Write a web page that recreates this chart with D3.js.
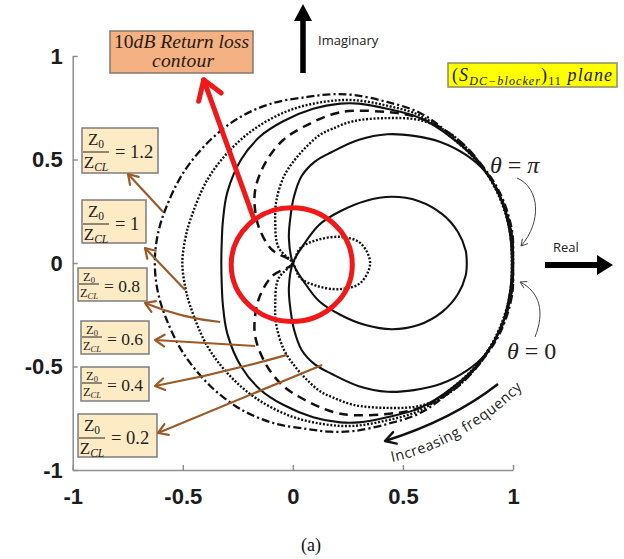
<!DOCTYPE html>
<html>
<head>
<meta charset="utf-8">
<script src="https://cdn.jsdelivr.net/npm/d3@7"></script>
<style>
  body { margin: 0; background: #fff; }
</style>
</head>
<body>
<svg id="chart" width="624" height="559"></svg>
<script>
// Z0/ZCL ratios of the coupled-line DC blocker
const ratios = ["1.2", "1", "0.8", "0.6", "0.4", "0.2"];

// S11 traces, [Re, Im], starting at θ = 0 (1, 0) and running with frequency
const s11_r12 = [
  [1.0, 0], [0.995, -0.159], [0.941, -0.338], [0.85, -0.483], [0.728, -0.609], [0.578, -0.725],
  [0.428, -0.778], [0.274, -0.812], [0.17, -0.815], [0.065, -0.802], [-0.089, -0.773], [-0.239, -0.705],
  [-0.375, -0.594], [-0.498, -0.435], [-0.58, -0.256], [-0.615, -0.13], [-0.627, 0],
  [-0.615, 0.13], [-0.58, 0.256], [-0.498, 0.435], [-0.375, 0.594], [-0.239, 0.705], [-0.089, 0.773],
  [0.065, 0.802], [0.17, 0.815], [0.274, 0.812], [0.428, 0.778], [0.578, 0.725], [0.728, 0.609],
  [0.85, 0.483], [0.941, 0.338], [0.995, 0.159]
];
const s11_r10 = [
  [1.0, 0], [0.99, -0.16], [0.935, -0.335], [0.85, -0.475], [0.728, -0.6], [0.578, -0.712],
  [0.428, -0.76], [0.274, -0.787], [0.137, -0.778], [-0.012, -0.739], [-0.162, -0.657], [-0.285, -0.546],
  [-0.389, -0.401], [-0.466, -0.208], [-0.49, -0.11], [-0.502, 0],
  [-0.49, 0.11], [-0.466, 0.208], [-0.389, 0.401], [-0.285, 0.546], [-0.162, 0.657], [-0.012, 0.739],
  [0.137, 0.778], [0.274, 0.787], [0.428, 0.76], [0.578, 0.712], [0.728, 0.6], [0.85, 0.475],
  [0.935, 0.335], [0.99, 0.16]
];
const s11_r08 = [
  [1.0, 0], [0.99, -0.16], [0.935, -0.335], [0.85, -0.478], [0.728, -0.6], [0.578, -0.7],
  [0.428, -0.745], [0.3, -0.77], [0.215, -0.77], [0.092, -0.745], [-0.044, -0.685], [-0.148, -0.612],
  [-0.235, -0.5], [-0.298, -0.34], [-0.318, -0.2], [-0.323, -0.1], [-0.325, 0],
  [-0.323, 0.1], [-0.318, 0.2], [-0.298, 0.34], [-0.235, 0.5], [-0.148, 0.612], [-0.044, 0.685],
  [0.092, 0.745], [0.215, 0.77], [0.3, 0.77], [0.428, 0.745], [0.578, 0.7], [0.728, 0.6],
  [0.85, 0.478], [0.935, 0.335], [0.99, 0.16]
];
const s11_r06 = [
  [1.0, 0], [0.991, -0.15], [0.95, -0.304], [0.873, -0.449], [0.782, -0.565], [0.669, -0.655],
  [0.546, -0.71], [0.428, -0.729], [0.274, -0.735], [0.183, -0.72], [0.047, -0.657], [-0.044, -0.594],
  [-0.122, -0.49], [-0.17, -0.36], [-0.172, -0.26], [-0.15, -0.16], [-0.094, -0.063], [0, 0],
  [-0.094, 0.063], [-0.15, 0.16], [-0.172, 0.26], [-0.17, 0.36], [-0.122, 0.49], [-0.044, 0.594],
  [0.047, 0.657], [0.183, 0.72], [0.274, 0.735], [0.428, 0.729], [0.546, 0.71], [0.669, 0.655],
  [0.782, 0.565], [0.873, 0.449], [0.95, 0.304], [0.991, 0.15]
];
const s11_r04 = [
  [0.995, 0], [0.985, -0.155], [0.945, -0.3], [0.882, -0.43], [0.8, -0.545], [0.7, -0.635],
  [0.578, -0.69], [0.428, -0.7], [0.274, -0.685], [0.183, -0.65], [0.124, -0.62], [0.06, -0.56],
  [0.01, -0.5], [-0.04, -0.42], [-0.075, -0.3], [-0.08, -0.2], [-0.066, -0.077], [0, 0],
  [0.034, 0.072], [0.11, 0.111], [0.215, 0.126], [0.306, 0.097], [0.351, 0],
  [0.306, -0.097], [0.215, -0.126], [0.11, -0.111], [0.034, -0.072], [0, 0],
  [-0.066, 0.077], [-0.08, 0.2], [-0.075, 0.3], [-0.04, 0.42], [0.01, 0.5], [0.06, 0.56],
  [0.124, 0.62], [0.183, 0.65], [0.274, 0.685], [0.428, 0.7], [0.578, 0.69], [0.7, 0.635],
  [0.8, 0.545], [0.882, 0.43], [0.945, 0.3], [0.985, 0.155]
];
const s11_r02 = [
  [0.995, 0], [0.985, -0.15], [0.945, -0.31], [0.875, -0.44], [0.79, -0.52], [0.67, -0.585],
  [0.55, -0.614], [0.43, -0.622], [0.3, -0.595], [0.175, -0.535], [0.1, -0.49], [0.04, -0.42],
  [0.005, -0.32], [-0.01, -0.23], [-0.018, -0.12], [0, 0],
  [0.05, 0.09], [0.12, 0.185], [0.215, 0.25], [0.33, 0.3], [0.45, 0.32], [0.57, 0.3],
  [0.68, 0.235], [0.75, 0.15], [0.785, 0.06], [0.79, 0],
  [0.785, -0.06], [0.75, -0.15], [0.68, -0.235], [0.57, -0.3], [0.45, -0.32], [0.33, -0.3],
  [0.215, -0.25], [0.12, -0.185], [0.05, -0.09], [0, 0],
  [-0.018, 0.12], [-0.01, 0.23], [0.005, 0.32], [0.04, 0.42], [0.1, 0.49], [0.175, 0.535],
  [0.3, 0.595], [0.43, 0.622], [0.55, 0.614], [0.67, 0.585], [0.79, 0.52], [0.875, 0.44],
  [0.945, 0.31], [0.985, 0.15]
];

// 10 dB return-loss contour radius as drawn, and where each ratio label points
const contourRadius = [0.275];
const labelTargets = [[-0.589, 0.246], [-0.489, -0.13], [-0.33, -0.285], [-0.171, -0.401], [-0.026, -0.444], [0.133, -0.493]];

const xTicks = [-1, -0.5, 0, 0.5, 1];
const yTicks = [-1, -0.5, 0, 0.5, 1];

// ---------------------------------------------------------------------------
const svg = d3.select("#chart");
svg.append("rect").attr("width", 624).attr("height", 559).attr("fill", "#fff");

const x = d3.scaleLinear().domain([-1, 1]).range([72.7, 513]);
const y = d3.scaleLinear().domain([-1, 1]).range([470, 56]);

const SERIF = "'Liberation Serif', 'DejaVu Serif', serif";
const SANS = "'Open Sans', 'Liberation Sans', sans-serif";

// axes (left and bottom only, inward ticks)
const gx = svg.append("g").attr("transform", `translate(0,${y(-1)})`)
  .call(d3.axisBottom(x).tickValues(xTicks).tickSizeInner(-5).tickSizeOuter(0)
    .tickPadding(18).tickFormat(d => String(d)));
const gy = svg.append("g").attr("transform", `translate(${x(-1)},0)`)
  .call(d3.axisLeft(y).tickValues(yTicks).tickSizeInner(-5).tickSizeOuter(0)
    .tickPadding(10).tickFormat(d => String(d)));
[gx, gy].forEach(g => {
  g.select(".domain").attr("stroke", "#8f8f8f").attr("stroke-width", 1.5);
  g.selectAll(".tick line").attr("stroke", "#8f8f8f").attr("stroke-width", 1.5);
  g.selectAll(".tick text")
    .attr("font-family", "'Liberation Sans', Arial, sans-serif")
    .attr("font-weight", "bold").attr("font-size", 22).attr("fill", "#1c1c1c");
});

// S11 traces
const traceLine = d3.line()
  .x(d => x(d[0])).y(d => y(d[1]))
  .curve(d3.curveCatmullRomClosed.alpha(0.5));

const traces = [
  { pts: s11_r12, dash: "8,3,2.2,3", w: 2.3 },
  { pts: s11_r10, dash: "2,1.7", w: 2.4 },
  { pts: s11_r08, dash: null, w: 2.1 },
  { pts: s11_r06, dash: "9,6", w: 2.5 },
  { pts: s11_r04, dash: "2,1.7", w: 2.4 },
  { pts: s11_r02, dash: null, w: 2.1 }
];
const gTr = svg.append("g");
traces.forEach(t => {
  gTr.append("path")
    .attr("d", traceLine(t.pts))
    .attr("fill", "none")
    .attr("stroke", "#111")
    .attr("stroke-width", t.w)
    .attr("stroke-dasharray", t.dash)
    .attr("stroke-linejoin", "round");
});

// chevron arrowhead helper
function chevron(g, tip, from, len, angDeg, color, width) {
  const a = Math.atan2(from[1] - tip[1], from[0] - tip[0]);
  const da = angDeg * Math.PI / 180;
  const p1 = [tip[0] + len * Math.cos(a + da), tip[1] + len * Math.sin(a + da)];
  const p2 = [tip[0] + len * Math.cos(a - da), tip[1] + len * Math.sin(a - da)];
  g.append("path")
    .attr("d", `M${p1[0]},${p1[1]}L${tip[0]},${tip[1]}L${p2[0]},${p2[1]}`)
    .attr("fill", "none").attr("stroke", color).attr("stroke-width", width)
    .attr("stroke-linejoin", "round").attr("stroke-linecap", "round");
}

// ratio label boxes
const boxLayout = [
  { x: 82, y: 128, w: 76, h: 45, big: true },
  { x: 82, y: 200, w: 64, h: 43, big: true },
  { x: 78, y: 268, w: 69, h: 33, big: false },
  { x: 81, y: 321, w: 68, h: 33, big: false },
  { x: 81, y: 367, w: 68, h: 34, big: false },
  { x: 78, y: 414, w: 79, h: 43, big: true }
];
const headPts = [[128, 174], [145, 248], [145, 303], [155, 340], [155, 386], [158, 433]];
const bend = [0, 0, 6, 0, 3, 0];

const gLab = svg.append("g");
ratios.forEach((r, i) => {
  const b = boxLayout[i];
  const c = b.big
    ? { nf: 17, nb: 17, bar: 24, db: 40, cx: 14, hw: 13, ex: 33, eb: 30, ef: 18.5 }
    : { nf: 12.5, nb: 13, bar: 16, db: 29, cx: 11, hw: 10, ex: 26, eb: 24, ef: 17.5 };
  gLab.append("rect").attr("x", b.x).attr("y", b.y).attr("width", b.w).attr("height", b.h)
    .attr("fill", "#fdebc6").attr("stroke", "#7d7d7d").attr("stroke-width", 1.5);
  const num = gLab.append("text").attr("x", b.x + c.cx).attr("y", b.y + c.nb)
    .attr("text-anchor", "middle").attr("font-family", SERIF).attr("font-size", c.nf).attr("fill", "#222");
  num.append("tspan").text("Z");
  num.append("tspan").attr("font-size", c.nf * 0.68).attr("dy", c.nf * 0.18).text("0");
  gLab.append("line").attr("x1", b.x + c.cx - c.hw).attr("x2", b.x + c.cx + c.hw)
    .attr("y1", b.y + c.bar).attr("y2", b.y + c.bar).attr("stroke", "#222").attr("stroke-width", 1);
  const den = gLab.append("text").attr("x", b.x + c.cx).attr("y", b.y + c.db)
    .attr("text-anchor", "middle").attr("font-family", SERIF).attr("font-size", c.nf).attr("fill", "#222");
  den.append("tspan").text("Z");
  den.append("tspan").attr("font-size", c.nf * 0.68).attr("font-style", "italic").attr("dy", c.nf * 0.18).text("CL");
  gLab.append("text").attr("x", b.x + c.ex).attr("y", b.y + c.eb)
    .attr("font-family", SERIF).attr("font-size", c.ef).attr("fill", "#222")
    .text("= " + r);

  // brown pointer from the trace to the box
  const tail = [x(labelTargets[i][0]), y(labelTargets[i][1])];
  const head = headPts[i];
  const mx = (tail[0] + head[0]) / 2, my = (tail[1] + head[1]) / 2 + bend[i];
  gLab.append("path").attr("d", `M${tail[0]},${tail[1]}Q${mx},${my} ${head[0]},${head[1]}`)
    .attr("fill", "none").attr("stroke", "#9c5a26").attr("stroke-width", 2.2);
  chevron(gLab, head, [mx, my], 11, 32, "#9c5a26", 2.2);
});

// 10 dB return-loss contour
const gRed = svg.append("g");
gRed.append("ellipse")
  .attr("cx", x(-0.005)).attr("cy", y(-0.008))
  .attr("rx", x(contourRadius[0]) - x(0)).attr("ry", y(0) - y(contourRadius[0]))
  .attr("fill", "none").attr("stroke", "#f01818").attr("stroke-width", 5);
const rTail = [x(-0.18), y(0.222)], rTip = [x(-0.405), y(0.885)];
gRed.append("line").attr("x1", rTail[0]).attr("y1", rTail[1]).attr("x2", rTip[0]).attr("y2", rTip[1])
  .attr("stroke", "#f01818").attr("stroke-width", 5).attr("stroke-linecap", "round");
chevron(gRed, rTip, rTail, 22, 33, "#f01818", 5);

// orange caption box
const gAnn = svg.append("g");
gAnn.append("rect").attr("x", 110).attr("y", 31).attr("width", 143).attr("height", 42)
  .attr("fill", "#f4b183").attr("stroke", "#86786e").attr("stroke-width", 1.5);
const t1 = gAnn.append("text").attr("x", 114).attr("y", 48)
  .attr("font-family", SERIF).attr("font-size", 19.5).attr("fill", "#2a1a10")
  .attr("textLength", 135).attr("lengthAdjust", "spacing");
t1.append("tspan").text("10");
t1.append("tspan").attr("font-style", "italic").text("dB Return loss");
gAnn.append("text").attr("x", 183).attr("y", 67).attr("text-anchor", "middle")
  .attr("font-family", SERIF).attr("font-size", 19.5).attr("font-style", "italic").attr("fill", "#2a1a10")
  .attr("textLength", 62).attr("lengthAdjust", "spacing")
  .text("contour");

// yellow plane box
gAnn.append("rect").attr("x", 448).attr("y", 63).attr("width", 169).attr("height", 24)
  .attr("fill", "#ffff00").attr("stroke", "#8c8c6a").attr("stroke-width", 1.5);
const pl = gAnn.append("text").attr("x", 452).attr("y", 81)
  .attr("font-family", SERIF).attr("font-size", 18).attr("font-style", "italic").attr("fill", "#1a1a1a")
  .attr("textLength", 160).attr("lengthAdjust", "spacing");
pl.append("tspan").attr("font-style", "normal").text("(");
pl.append("tspan").text("S");
pl.append("tspan").attr("font-size", 12).attr("dy", 4).text("DC\u2212blocker");
pl.append("tspan").attr("font-style", "normal").attr("dy", -4).text(")");
pl.append("tspan").attr("font-style", "normal").attr("font-size", 12).attr("dy", 4).text("11");
pl.append("tspan").attr("dy", -4).text(" plane");

// Imaginary axis arrow
gAnn.append("line").attr("x1", 303).attr("x2", 303).attr("y1", 73).attr("y2", 18)
  .attr("stroke", "#000").attr("stroke-width", 5.5);
gAnn.append("path").attr("d", "M294,21L312,21L303,4Z").attr("fill", "#000");
gAnn.append("text").attr("x", 318).attr("y", 45).attr("font-family", SANS)
  .attr("font-size", 13).attr("fill", "#222").text("Imaginary");

// Real axis arrow
gAnn.append("line").attr("x1", 545).attr("x2", 598).attr("y1", 265).attr("y2", 265)
  .attr("stroke", "#000").attr("stroke-width", 6);
gAnn.append("path").attr("d", "M597,255L597,275L613,265Z").attr("fill", "#000");
gAnn.append("text").attr("x", 553).attr("y", 252).attr("font-family", SANS)
  .attr("font-size", 13).attr("fill", "#222").text("Real");

// θ markers
const thPi = gAnn.append("text").attr("x", 490).attr("y", 173).attr("font-family", SERIF)
  .attr("font-size", 24).attr("fill", "#222");
thPi.append("tspan").attr("font-style", "italic").text("\u03B8");
thPi.append("tspan").text(" = ");
thPi.append("tspan").attr("font-style", "italic").text("\u03C0");
const th0 = gAnn.append("text").attr("x", 507).attr("y", 359).attr("font-family", SERIF)
  .attr("font-size", 24).attr("fill", "#222");
th0.append("tspan").attr("font-style", "italic").text("\u03B8");
th0.append("tspan").text(" = 0");
gAnn.append("path").attr("d", "M517,178C540,188 542,222 521,246")
  .attr("fill", "none").attr("stroke", "#444").attr("stroke-width", 1);
chevron(gAnn, [521, 246], [542, 222], 7, 30, "#444", 1);
gAnn.append("path").attr("d", "M535,337C545,312 540,292 520,282")
  .attr("fill", "none").attr("stroke", "#444").attr("stroke-width", 1);
chevron(gAnn, [520, 282], [540, 292], 7, 30, "#444", 1);

// increasing frequency arrow and label
gAnn.append("path").attr("d", "M498,384Q452,420 385,441")
  .attr("fill", "none").attr("stroke", "#111").attr("stroke-width", 2.4);
chevron(gAnn, [385, 441], [452, 420], 12, 30, "#111", 2.4);
svg.append("defs").append("path").attr("id", "freqPath")
  .attr("d", "M392,462Q462,447 523,388");
gAnn.append("text").attr("font-family", SANS).attr("font-size", 14.5).attr("fill", "#222")
  .append("textPath").attr("href", "#freqPath").attr("textLength", 152)
  .text("Increasing frequency");

// panel caption
svg.append("text").attr("x", 311).attr("y", 551).attr("text-anchor", "middle")
  .attr("font-family", SERIF).attr("font-size", 18).attr("fill", "#111").text("(a)");
</script>
</body>
</html>
